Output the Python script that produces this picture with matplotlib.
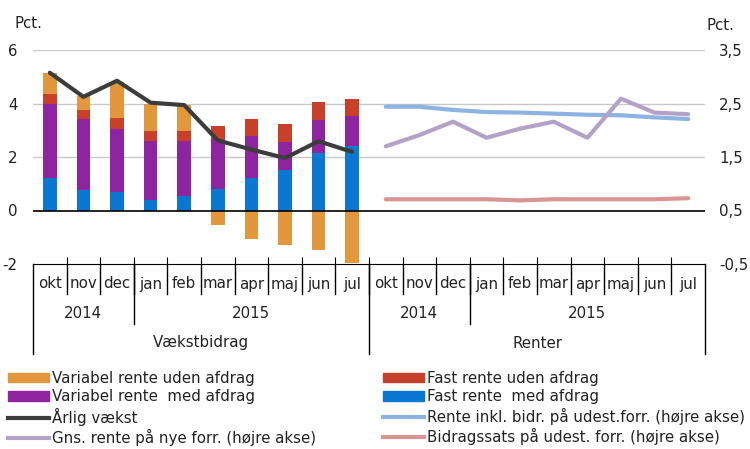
import matplotlib
matplotlib.use("Agg")
import matplotlib.pyplot as plt
from matplotlib.patches import Patch
from matplotlib.lines import Line2D

plt.rcParams["font.family"] = ["DejaVu Sans"]

# data
months = ["okt", "nov", "dec", "jan", "feb", "mar", "apr", "maj", "jun", "jul"]
years = ["2014", "2015"]
groups = ["Vækstbidrag", "Renter"]

fast_med = [1.21, 0.76, 0.71, 0.41, 0.56, 0.79, 1.21, 1.50, 2.15, 2.41]
var_med = [2.79, 2.65, 2.34, 2.19, 2.04, 1.89, 1.58, 1.06, 1.23, 1.14]
fast_uden = [0.35, 0.35, 0.40, 0.36, 0.36, 0.47, 0.62, 0.67, 0.67, 0.61]
var_uden = [0.80, 0.52, 1.36, 1.04, 0.98, -0.54, -1.08, -1.30, -1.48, -1.98]
aarlig = [5.15, 4.25, 4.85, 4.03, 3.94, 2.62, 2.28, 1.96, 2.59, 2.19]

rente_inkl = [2.44, 2.44, 2.38, 2.34, 2.33, 2.31, 2.29, 2.28, 2.24, 2.21]
gns_rente = [1.70, 1.91, 2.16, 1.86, 2.03, 2.16, 1.86, 2.59, 2.33, 2.30]
bidragssats = [0.71, 0.71, 0.71, 0.71, 0.69, 0.71, 0.71, 0.71, 0.71, 0.73]

c_orange = "#E3973C"
c_red = "#C9402A"
c_purple = "#8E24A0"
c_blue = "#0A78D2"
c_black = "#3C3C3C"
c_lblue = "#8DB3E2"
c_lav = "#B3A2C7"
c_pink = "#D99594"
c_text = "#222222"
fs = 10.8

fig = plt.figure(figsize=(7.5, 4.49), dpi=100)
ax = fig.add_axes([33 / 750, 1 - 264 / 449, 672 / 750, 214 / 449])
ax2 = ax.twinx()

n = len(months)
xl = list(range(n))
xr = [i + n for i in range(n)]
w = 0.4

# stacked bars, positive parts stacked upward, negative part below zero
bottom = [0.0] * n
for vals, col in [(fast_med, c_blue), (var_med, c_purple), (fast_uden, c_red)]:
    ax.bar(xl, vals, w, bottom=bottom, color=col, zorder=2)
    bottom = [b + v for b, v in zip(bottom, vals)]
pos_var = [v if v > 0 else 0 for v in var_uden]
neg_var = [v if v < 0 else 0 for v in var_uden]
ax.bar(xl, pos_var, w, bottom=bottom, color=c_orange, zorder=2)
ax.bar(xl, neg_var, w, color=c_orange, zorder=2)
ax.plot(xl, aarlig, color=c_black, lw=3, zorder=4, solid_capstyle="round")

ax2.plot(xr, rente_inkl, color=c_lblue, lw=3, solid_capstyle="round")
ax2.plot(xr, gns_rente, color=c_lav, lw=3, solid_capstyle="round")
ax2.plot(xr, bidragssats, color=c_pink, lw=3, solid_capstyle="round")

ax.set_xlim(-0.5, 2 * n - 0.5)
ax.set_ylim(-2, 6)
ax2.set_ylim(-0.5, 3.5)
ax.set_yticks([-2, 0, 2, 4, 6])
ax.set_yticklabels(["-2", "0", "2", "4", "6"])
ax2.set_yticks([-0.5, 0.5, 1.5, 2.5, 3.5])
ax2.set_yticklabels(["-0,5", "0,5", "1,5", "2,5", "3,5"])
for a in (ax, ax2):
    for s in a.spines.values():
        s.set_visible(False)
ax.spines["bottom"].set_visible(True)
ax.spines["bottom"].set_color("black")
ax.tick_params(axis="y", length=0, pad=11, labelsize=fs, colors=c_text)
ax2.tick_params(axis="y", length=0, pad=10, labelsize=fs, colors=c_text)
ax.set_xticks([i + 0.5 for i in range(2 * n - 1)])
ax.set_xticklabels([])
ax.tick_params(axis="x", direction="in", length=5, color="black")
for yv in [2, 4, 6]:
    ax.axhline(yv, color="#C8C8C8", lw=1, zorder=0)
ax.axhline(0, color="black", lw=1.2, zorder=3)

# category axis
tr = ax.get_xaxis_transform()
ax_h = 214.0


def fy(px):
    return -(px - 264) / ax_h


for i in range(2 * n):
    ax.text(i, fy(284), months[i % n], ha="center", va="center",
            fontsize=fs, transform=tr, color=c_text)
for i in range(1, 2 * n):
    ax.plot([i - 0.5, i - 0.5], [0, fy(294)], color="black", lw=1,
            transform=tr, clip_on=False)
for p in range(2):
    base = p * n
    ax.text(base + 1, fy(314), years[0], ha="center", va="center",
            fontsize=fs, transform=tr, color=c_text)
    ax.text(base + 6, fy(314), years[1], ha="center", va="center",
            fontsize=fs, transform=tr, color=c_text)
    ax.plot([base + 2.5, base + 2.5], [0, fy(324)], color="black", lw=1,
            transform=tr, clip_on=False)
    ax.text(base + 4.5, fy(343), groups[p], ha="center", va="center",
            fontsize=fs, transform=tr, color=c_text)
for xs in [-0.5, n - 0.5, 2 * n - 0.5]:
    ax.plot([xs, xs], [0, fy(354)], color="black", lw=1,
            transform=tr, clip_on=False)

fig.text(15 / 750, 1 - 23 / 449, "Pct.", ha="left", va="center", fontsize=fs, color=c_text)
fig.text(707 / 750, 1 - 25 / 449, "Pct.", ha="left", va="center", fontsize=fs, color=c_text)

# legend in two columns
h1 = [Patch(color=c_orange, label="Variabel rente uden afdrag"),
      Patch(color=c_purple, label="Variabel rente  med afdrag"),
      Line2D([], [], color=c_black, lw=3, label="Årlig vækst"),
      Line2D([], [], color=c_lav, lw=3, label="Gns. rente på nye forr. (højre akse)")]
h2 = [Patch(color=c_red, label="Fast rente uden afdrag"),
      Patch(color=c_blue, label="Fast rente  med afdrag"),
      Line2D([], [], color=c_lblue, lw=3, label="Rente inkl. bidr. på udest.forr. (højre akse)"),
      Line2D([], [], color=c_pink, lw=3, label="Bidragssats på udest. forr. (højre akse)")]
for hs, x0 in [(h1, 8 / 750), (h2, 383 / 750)]:
    leg = fig.legend(handles=hs, loc="upper left", bbox_to_anchor=(x0, 1 - 371 / 449),
                     frameon=False, fontsize=fs, handlelength=2.7, handletextpad=0.25,
                     labelspacing=0.22, borderaxespad=0, borderpad=0, handleheight=0.6)
    for t in leg.get_texts():
        t.set_color(c_text)

fig.savefig("out.png", dpi=100)
